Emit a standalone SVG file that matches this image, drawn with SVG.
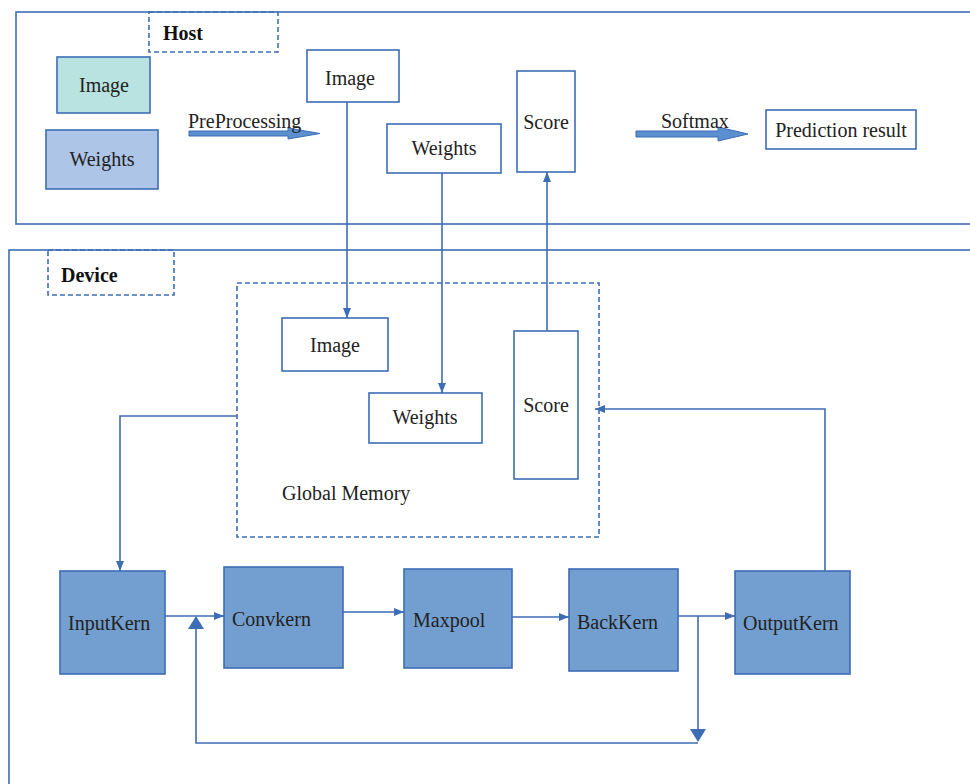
<svg xmlns="http://www.w3.org/2000/svg" width="970" height="784" viewBox="0 0 970 784">
  <defs>
    <style>
      .frame { fill: none; stroke: #3c6db5; stroke-width: 1.6; }
      .dash { fill: none; stroke: #3c6db5; stroke-width: 1.6; stroke-dasharray: 5,3; }
      .box { fill: #ffffff; stroke: #3c6db5; stroke-width: 1.6; }
      .kern { fill: #729fcf; stroke: #3c6db5; stroke-width: 1.6; }
      .wire { fill: none; stroke: #3c6db5; stroke-width: 1.6; }
      .head { fill: #3c6db5; stroke: none; }
      .block { fill: #5b8fd0; stroke: #3c6db5; stroke-width: 1; }
      text { font-family: "Liberation Serif", "Times New Roman", serif; font-size: 20px; fill: #222222; }
      .bold { font-weight: bold; fill: #111111; }
      .mid { text-anchor: middle; }
    </style>
    <marker id="arrow" viewBox="0 0 10 8" refX="10" refY="4" markerWidth="10" markerHeight="8" markerUnits="userSpaceOnUse" orient="auto">
      <path d="M0,0 L10,4 L0,8 z" fill="#3c6db5"/>
    </marker>
  </defs>

  <!-- Host region -->
  <g id="host">
    <rect class="frame" x="16" y="12" width="980" height="212"/>
    <rect class="dash" x="149" y="12" width="129" height="40"/>
    <text class="bold" x="163" y="40">Host</text>
  </g>

  <!-- Device region -->
  <g id="device">
    <rect class="frame" x="9" y="250" width="990" height="560"/>
    <rect class="dash" x="48" y="250" width="126" height="45"/>
    <text class="bold" x="61" y="282">Device</text>
  </g>

  <!-- Global memory area -->
  <g id="global-memory">
    <rect class="dash" x="237" y="283" width="362" height="254"/>
    <text x="282" y="500">Global Memory</text>
  </g>

  <!-- Host nodes -->
  <g id="host-image-src">
    <rect x="57" y="57" width="93" height="56" fill="#b9e3e1" stroke="#3c6db5" stroke-width="1.6"/>
    <text class="mid" x="104" y="92">Image</text>
  </g>
  <g id="host-weights-src">
    <rect x="46" y="130" width="112" height="59" fill="#adc5e7" stroke="#3c6db5" stroke-width="1.6"/>
    <text class="mid" x="102" y="166">Weights</text>
  </g>
  <g id="host-image">
    <rect class="box" x="307" y="50" width="92" height="52"/>
    <text class="mid" x="350" y="85">Image</text>
  </g>
  <g id="host-weights">
    <rect class="box" x="387" y="124" width="114" height="49"/>
    <text class="mid" x="444" y="155">Weights</text>
  </g>
  <g id="host-score">
    <rect class="box" x="517" y="71" width="58" height="101"/>
    <text class="mid" x="546" y="129">Score</text>
  </g>
  <g id="prediction">
    <rect class="box" x="766" y="110" width="150" height="39"/>
    <text class="mid" x="841" y="137">Prediction result</text>
  </g>

  <!-- Device memory nodes -->
  <g id="dev-image">
    <rect class="box" x="282" y="318" width="106" height="53"/>
    <text class="mid" x="335" y="352">Image</text>
  </g>
  <g id="dev-weights">
    <rect class="box" x="369" y="393" width="113" height="50"/>
    <text class="mid" x="425" y="424">Weights</text>
  </g>
  <g id="dev-score">
    <rect class="box" x="514" y="331" width="64" height="148"/>
    <text class="mid" x="546" y="412">Score</text>
  </g>

  <!-- Kernels -->
  <g id="inputkern">
    <rect class="kern" x="60" y="571" width="105" height="103"/>
    <text x="68" y="630">InputKern</text>
  </g>
  <g id="convkern">
    <rect class="kern" x="224" y="567" width="119" height="101"/>
    <text x="232" y="626">Convkern</text>
  </g>
  <g id="maxpool">
    <rect class="kern" x="404" y="569" width="108" height="99"/>
    <text x="413" y="627">Maxpool</text>
  </g>
  <g id="backkern">
    <rect class="kern" x="569" y="569" width="109" height="102"/>
    <text x="577" y="629">BackKern</text>
  </g>
  <g id="outputkern">
    <rect class="kern" x="735" y="571" width="115" height="103"/>
    <text x="743" y="630">OutputKern</text>
  </g>

  <!-- Connectors -->
  <g id="connectors">
    <!-- block arrows on host side -->
    <polygon class="block" points="189,131 288,131 288,128 320,133.5 288,139 288,136 189,136"/>
    <text x="188" y="128">PreProcessing</text>
    <polygon class="block" points="636,131 718,131 718,127 748,134 718,141 718,137 636,137"/>
    <text x="661" y="128">Softmax</text>

    <!-- host to device transfers -->
    <path class="wire" d="M347,102 V318" marker-end="url(#arrow)"/>
    <path class="wire" d="M442,173 V393" marker-end="url(#arrow)"/>
    <path class="wire" d="M547,331 V172" marker-end="url(#arrow)"/>

    <!-- global memory to input kernel -->
    <path class="wire" d="M237,416 H120 V571" marker-end="url(#arrow)"/>

    <!-- kernel pipeline -->
    <path class="wire" d="M165,616 H224" marker-end="url(#arrow)"/>
    <path class="wire" d="M343,612 H404" marker-end="url(#arrow)"/>
    <path class="wire" d="M512,617 H569" marker-end="url(#arrow)"/>
    <path class="wire" d="M678,616 H735" marker-end="url(#arrow)"/>

    <!-- output kernel back to score -->
    <path class="wire" d="M825,571 V409 H595" marker-end="url(#arrow)"/>

    <!-- feedback loop -->
    <path class="wire" d="M698,616 V730"/>
    <polygon class="head" points="690,729 706,729 698,742"/>
    <path class="wire" d="M698,743 H196 V628"/>
    <polygon class="head" points="188,629 204,629 196,616"/>
  </g>
</svg>
